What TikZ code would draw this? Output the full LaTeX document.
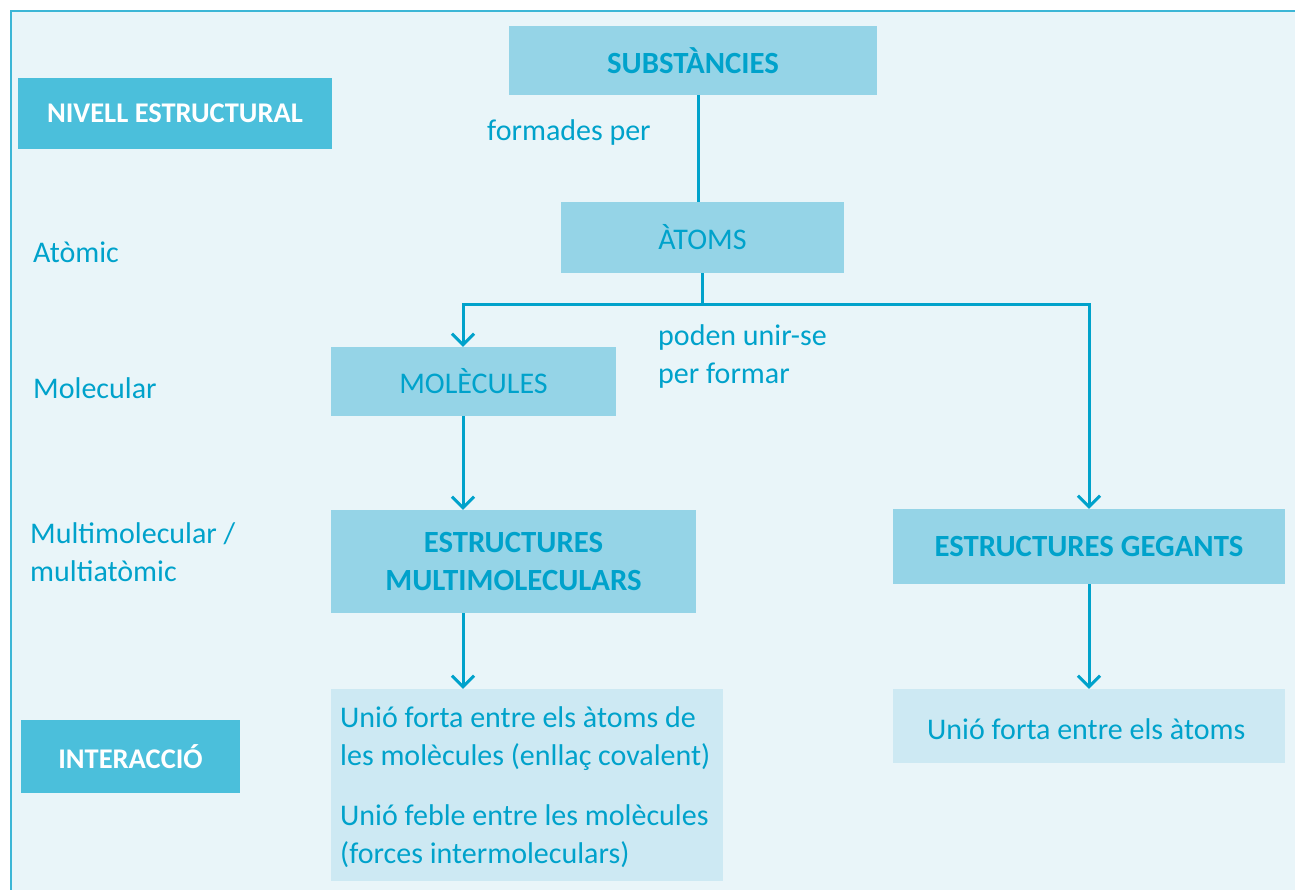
\documentclass[tikz,border=0pt]{standalone}
\usepackage{fontspec}
\setmainfont{Carlito}
\usetikzlibrary{arrows.meta,calc}
\definecolor{bg}{HTML}{E9F5F9}
\definecolor{frame}{HTML}{3CB6D6}
\definecolor{darkbox}{HTML}{4BBFDB}
\definecolor{midbox}{HTML}{95D4E7}
\definecolor{lightbox}{HTML}{CDE9F3}
\definecolor{txt}{HTML}{00A2CB}
\tikzset{
  box/.style={rectangle, inner sep=0pt, align=center, text=txt},
  midb/.style={box, fill=midbox},
  lightb/.style={box, fill=lightbox},
  darkb/.style={box, fill=darkbox, text=white, font=\fontsize{28.5}{34}\selectfont\bfseries},
  norm/.style={font=\fontsize{30}{38}\selectfont},
  bold/.style={font=\fontsize{30.8}{38}\selectfont\bfseries},
  lbl/.style={text=txt, inner sep=0pt, anchor=west, align=left, font=\fontsize{30}{38}\selectfont},
  conn/.style={draw=txt, line width=3pt},
  arr/.style={conn, -{Straight Barb[length=11pt,width=22pt]}}
}
\begin{document}
\begin{tikzpicture}[x=1pt,y=-1pt]
\useasboundingbox (0,0) rectangle (1295,890);
\fill[white] (0,0) rectangle (1295,890);
\fill[bg] (11,11) rectangle (1295,890);
\draw[frame, line width=2pt] (11,890) -- (11,11) -- (1295,11);

% boxes
\node[darkb, minimum width=314pt, minimum height=71pt] (lvl) at (175,113.5) {NIVELL ESTRUCTURAL};
\node[darkb, minimum width=219pt, minimum height=73pt] (inter) at (130.5,756.5) {INTERACCIÓ};
\node[midb, bold, minimum width=368pt, minimum height=69pt] (subst) at (693,60.5) {SUBSTÀNCIES};
\node[midb, norm, minimum width=283pt, minimum height=71pt] (atoms) at (702.5,237.5) {ÀTOMS};
\node[midb, norm, minimum width=285pt, minimum height=69pt] (mol) at (473.5,381.5) {MOLÈCULES};
\node[midb, bold, minimum width=365pt, minimum height=103pt] (emm) at (513.5,561.5) {ESTRUCTURES\\MULTIMOLECULARS};
\node[midb, bold, minimum width=392pt, minimum height=75pt] (egeg) at (1089,546.5) {ESTRUCTURES GEGANTS};
\node[lightb, minimum width=392pt, minimum height=192pt] (intL) at (527,785) {};
\node[lightb, minimum width=392pt, minimum height=74pt] (intR) at (1089,726) {};

% texts in interaction boxes
\node[lbl] (tL1) at (340,739) {Unió forta entre els àtoms de\\les molècules (enllaç covalent)};
\node[lbl] (tL2) at (340,836) {Unió feble entre les molècules\\(forces intermoleculars)};
\node[lbl] (tR) at (927,729) {Unió forta entre els àtoms};

% labels
\node[lbl] (fp) at (487,133) {formades per};
\node[lbl] (pu) at (658,356.5) {poden unir-se\\per formar};
\node[lbl] (la) at (33,252) {Atòmic};
\node[lbl] (lm) at (33,388) {Molecular};
\node[lbl] (lmm) at (30,552) {Multimolecular /\\multiatòmic};

% connectors
\coordinate (j) at (702,305);
\coordinate (jl) at (463,305);
\coordinate (jr) at (1089,305);
\draw[conn] (subst.south -| 698,0) -- (atoms.north -| 698,0);
\draw[conn] (atoms.south -| j) -- (j);
\draw[arr] (j) -| (jl |- mol.north);
\draw[arr] (j) -| (jr |- egeg.north);
\draw[arr] (jl |- mol.south) -- (jl |- emm.north);
\draw[arr] (jl |- emm.south) -- (jl |- intL.north);
\draw[arr] (jr |- egeg.south) -- (jr |- intR.north);
\end{tikzpicture}
\end{document}
